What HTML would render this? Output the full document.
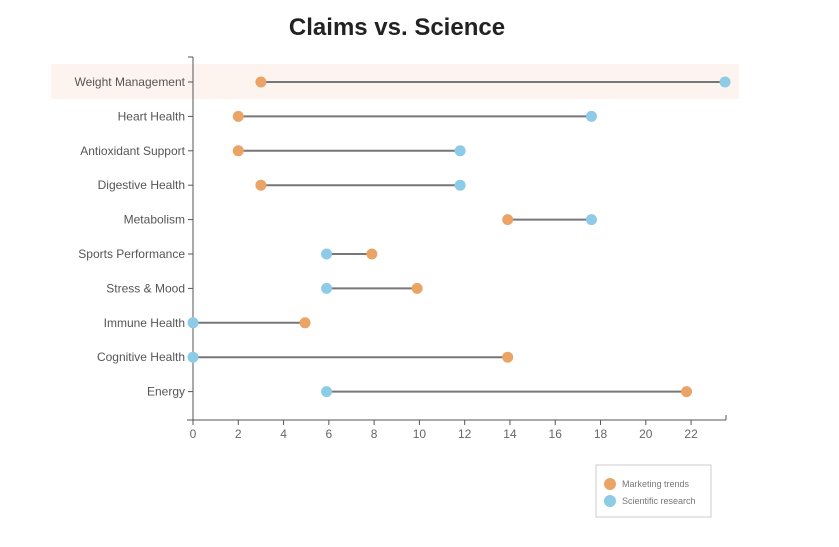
<!DOCTYPE html>
<html><head><meta charset="utf-8"><style>
body{margin:0;background:#fff;font-family:"Liberation Sans",sans-serif;}
svg{display:block}
</style></head><body>
<svg width="839" height="547">
<text x="397" y="35" text-anchor="middle" font-size="24" font-weight="bold" fill="#222">Claims vs. Science</text>
<rect x="51" y="64" width="688" height="35" fill="#fdf3ef"/>
<g id="plot"></g>
<g>
<rect x="596" y="465" width="115" height="52" fill="#fff" stroke="#ccc"/>
<circle cx="610" cy="484" r="6" fill="#e9a466"/>
<text x="622" y="487" font-size="9" fill="#777">Marketing trends</text>
<circle cx="610" cy="501" r="6" fill="#8dcbe6"/>
<text x="622" y="504" font-size="9" fill="#777">Scientific research</text>
</g>
</svg>
<script>
const categories=["Weight Management","Heart Health","Antioxidant Support","Digestive Health","Metabolism","Sports Performance","Stress & Mood","Immune Health","Cognitive Health","Energy"];
const marketing=[3,2,2,3,13.9,7.9,9.9,4.95,13.9,21.8];
const science=[23.5,17.6,11.8,11.8,17.6,5.9,5.9,0,0,5.9];
const ticks=[0,2,4,6,8,10,12,14,16,18,20,22];
const NS="http://www.w3.org/2000/svg";
const g=document.getElementById('plot');
const x=v=>193+v*22.64;
const y=i=>82+i*34.4;
function mk(t,a){const e=document.createElementNS(NS,t);for(const k in a)e.setAttribute(k,a[k]);g.appendChild(e);return e;}
let e;
e=mk('line',{x1:193,y1:57,x2:193,y2:420,stroke:'#555'});


e=mk('line',{x1:188,y1:57,x2:193,y2:57,stroke:'#555'});
e=mk('line',{x1:187,y1:420,x2:726,y2:420,stroke:'#555'});


mk('line',{x1:726,y1:420,x2:726,y2:415,stroke:'#555'});
ticks.forEach(t=>{
 mk('line',{x1:x(t),y1:420,x2:x(t),y2:425,stroke:'#555'});
 e=mk('text',{x:x(t),y:438,'text-anchor':'middle','font-size':12,fill:'#666'});
 e.textContent=t;
 
 
});
categories.forEach((c,i)=>{
 mk('line',{x1:188,y1:y(i),x2:193,y2:y(i),stroke:'#555'});
 e=mk('text',{x:185,y:y(i)+4,'text-anchor':'end','font-size':12,fill:'#555'});
 e.textContent=c;
 
 
 e=mk('line',{x1:x(marketing[i]),y1:y(i),x2:x(science[i]),y2:y(i),stroke:'#777','stroke-width':2});
 
 
 e=mk('circle',{cx:x(marketing[i]),cy:y(i),r:5.5,fill:'#e9a466'});
 
 
 e=mk('circle',{cx:x(science[i]),cy:y(i),r:5.5,fill:'#8dcbe6'});
 
 
});
</script>
</body></html>
